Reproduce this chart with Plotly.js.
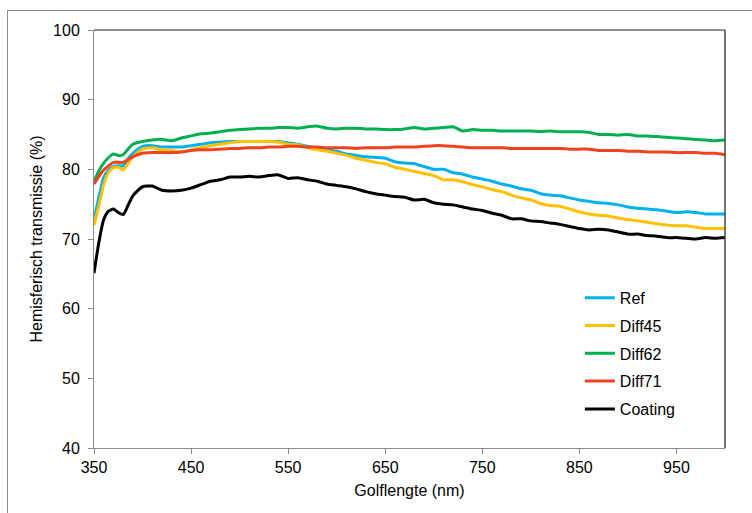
<!DOCTYPE html>
<html>
<head>
<meta charset="utf-8">
<script src="https://cdn.plot.ly/plotly-3.0.1.min.js"></script>
<style>
  body { margin: 0; background: #fff; }
  #wrap { position: relative; width: 752px; height: 513px; }
  #chart { width: 752px; height: 513px; }
  #frame { position: absolute; left: 7px; top: 10px; right: -2px; bottom: -2px;
           border-left: 1px solid #8c8c8c; border-top: 1px solid #8c8c8c; pointer-events: none; }
</style>
</head>
<body>
<div id="wrap">
  <div id="chart"></div>
  <div id="frame"></div>
</div>
<script>
// wavelengths (nm)
const wavelength = [350, 355, 360, 365, 370, 375, 380, 385, 390,
  400, 410, 420, 430, 440, 450, 460, 470, 480, 490,
  500, 510, 520, 530, 540, 550, 560, 570, 580, 590,
  600, 610, 620, 630, 640, 650, 660, 670, 680, 690,
  700, 710, 720, 730, 740, 750, 760, 770, 780, 790,
  800, 810, 820, 830, 840, 850, 860, 870, 880, 890,
  900, 910, 920, 930, 940, 950, 960, 970, 980, 990, 1000];

const ref = [72.7, 76.0, 78.8, 79.9, 80.4, 80.5, 80.5, 81.5, 82.3,
  83.3, 83.4, 83.2, 83.2, 83.2, 83.4, 83.6, 83.8, 83.9, 84.0,
  84.0, 84.0, 84.0, 84.0, 84.0, 83.8, 83.6, 83.3, 83.0, 82.8,
  82.6, 82.2, 82.0, 81.8, 81.7, 81.6, 81.1, 80.9, 80.8, 80.4,
  80.0, 80.0, 79.5, 79.3, 78.9, 78.6, 78.3, 77.9, 77.6, 77.2,
  77.0, 76.5, 76.3, 76.2, 75.9, 75.6, 75.4, 75.2, 75.1, 74.9,
  74.6, 74.4, 74.3, 74.2, 74.0, 73.8, 73.9, 73.8, 73.6, 73.6, 73.6];

const diff45 = [72.0, 74.8, 77.8, 79.6, 80.2, 80.3, 79.9, 80.8, 81.8,
  82.9, 83.1, 82.8, 82.7, 82.5, 82.8, 83.1, 83.4, 83.6, 83.8,
  84.0, 84.0, 84.0, 84.0, 83.9, 83.6, 83.5, 83.1, 82.8, 82.6,
  82.3, 82.0, 81.6, 81.3, 81.0, 80.8, 80.3, 80.0, 79.7, 79.4,
  79.1, 78.5, 78.5, 78.2, 77.8, 77.5, 77.1, 76.8, 76.3, 75.9,
  75.6, 75.1, 74.8, 74.7, 74.3, 73.9, 73.6, 73.4, 73.3, 73.0,
  72.8, 72.6, 72.4, 72.2, 72.0, 71.9, 71.9, 71.7, 71.5, 71.5, 71.5];

const diff62 = [78.2, 79.8, 80.9, 81.7, 82.2, 82.0, 82.1, 82.9, 83.6,
  84.0, 84.2, 84.3, 84.1, 84.5, 84.8, 85.1, 85.2, 85.4, 85.6,
  85.7, 85.8, 85.9, 85.9, 86.0, 86.0, 85.9, 86.1, 86.2, 85.9,
  85.8, 85.9, 85.9, 85.8, 85.8, 85.7, 85.7, 85.8, 86.0, 85.8,
  85.9, 86.0, 86.1, 85.5, 85.7, 85.6, 85.6, 85.5, 85.5, 85.5,
  85.5, 85.4, 85.5, 85.4, 85.4, 85.4, 85.3, 85.0, 85.0, 84.9,
  85.0, 84.8, 84.8, 84.7, 84.6, 84.5, 84.4, 84.3, 84.2, 84.1, 84.2];

const diff71 = [77.9, 79.0, 79.9, 80.5, 81.0, 81.0, 81.0, 81.4, 81.8,
  82.3, 82.4, 82.4, 82.4, 82.5, 82.7, 82.8, 82.8, 82.9, 83.0,
  83.0, 83.1, 83.1, 83.2, 83.2, 83.3, 83.3, 83.2, 83.2, 83.1,
  83.1, 83.1, 83.0, 83.1, 83.1, 83.1, 83.2, 83.2, 83.2, 83.3,
  83.4, 83.4, 83.3, 83.2, 83.1, 83.1, 83.1, 83.1, 83.0, 83.0,
  83.0, 83.0, 83.0, 83.0, 82.9, 82.9, 82.9, 82.7, 82.7, 82.7,
  82.6, 82.6, 82.5, 82.5, 82.5, 82.4, 82.4, 82.4, 82.3, 82.3, 82.1];

const coating = [65.1, 69.5, 72.8, 74.0, 74.3, 73.8, 73.5, 74.8, 76.2,
  77.5, 77.6, 77.0, 76.9, 77.0, 77.3, 77.8, 78.3, 78.5, 78.9,
  78.9, 79.0, 78.9, 79.1, 79.2, 78.7, 78.8, 78.5, 78.3, 77.9,
  77.7, 77.5, 77.2, 76.8, 76.5, 76.3, 76.1, 76.0, 75.6, 75.7,
  75.2, 75.0, 74.9, 74.6, 74.3, 74.1, 73.7, 73.4, 72.9, 72.9,
  72.6, 72.5, 72.3, 72.1, 71.8, 71.5, 71.3, 71.4, 71.3, 71.0,
  70.7, 70.7, 70.5, 70.4, 70.2, 70.2, 70.1, 70.0, 70.2, 70.1, 70.2];

const seriesNames = ['Ref', 'Diff45', 'Diff62', 'Diff71', 'Coating'];
const seriesData = [ref, diff45, diff62, diff71, coating];
const seriesColors = ['#00B0F0', '#FFC000', '#00B050', '#F0421E', '#000000'];

const xTicks = [350, 450, 550, 650, 750, 850, 950];
const yTicks = [40, 50, 60, 70, 80, 90, 100];

const traces = seriesNames.map((name, i) => ({
    x: wavelength, y: seriesData[i], name: name,
    legendgroup: name,
    type: 'scatter', mode: 'lines',
    line: { color: seriesColors[i], width: 3, shape: 'spline', smoothing: 0.6 }
}));

const font = { family: '"Liberation Sans", Arial, sans-serif', size: 16, color: '#000' };

const layout = {
    width: 752, height: 513,
    paper_bgcolor: '#fff', plot_bgcolor: '#fff',
    margin: { l: 94, r: 27, t: 30, b: 65 },
    font: font,
    showlegend: true,
    legend: {
        x: 0.77, y: 0.40, xanchor: 'left', yanchor: 'top',
        traceorder: 'grouped', tracegroupgap: 4,
        bgcolor: 'rgba(0,0,0,0)', font: font,
        itemwidth: 30
    },
    xaxis: {
        range: [350, 1000], tickvals: xTicks,
        showgrid: false, zeroline: false,
        showline: true, linecolor: '#8c8c8c', linewidth: 1,
        ticks: 'outside', ticklen: 5, tickcolor: '#8c8c8c',
        tickfont: font,
        title: { text: 'Golflengte (nm)', font: font, standoff: 9 }
    },
    yaxis: {
        range: [40, 100], tickvals: yTicks,
        showgrid: false, zeroline: false,
        showline: true, linecolor: '#8c8c8c', linewidth: 1,
        ticks: 'outside', ticklen: 5, tickcolor: '#8c8c8c',
        tickfont: font, ticklabelstandoff: 5,
        title: { text: 'Hemisferisch transmissie (%)', font: font, standoff: 6 }
    },
    shapes: [
        // plot area border, top and right
        { type: 'line', xref: 'paper', yref: 'paper', x0: 0, x1: 1, y0: 1, y1: 1, line: { color: '#222', width: 1.2 } },
        { type: 'line', xref: 'paper', yref: 'paper', x0: 1, x1: 1, y0: 0, y1: 1, line: { color: '#444', width: 1.5 } }
    ]
};

Plotly.newPlot('chart', traces, layout, { displayModeBar: false, staticPlot: true });
</script>
</body>
</html>
